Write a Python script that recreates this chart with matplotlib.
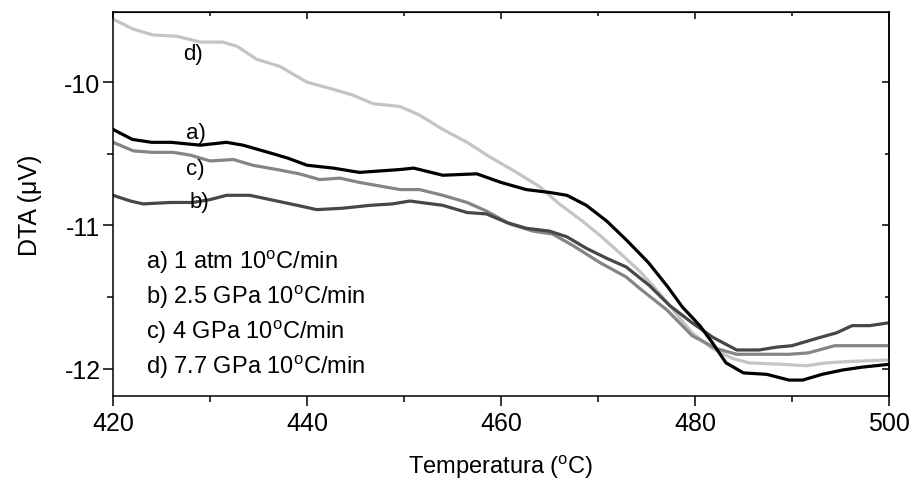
import matplotlib
matplotlib.use("Agg")
import matplotlib.pyplot as plt
from matplotlib.ticker import MultipleLocator

plt.rcParams['font.family'] = ['Liberation Sans', 'DejaVu Sans']
plt.rcParams['mathtext.fontset'] = 'custom'
plt.rcParams['mathtext.rm'] = 'Liberation Sans'
plt.rcParams['mathtext.it'] = 'Liberation Sans:italic'

# a) 1 atm
temp_a = [420, 422, 424, 426, 429, 431.7, 433.4, 436, 438, 440, 442.7, 445.4, 449.6, 451, 454,
          457.5, 460, 462.6, 465, 466.8, 468.8, 470.9, 472.9, 475.2, 477.2, 478.7, 480.5, 481.8,
          483.2, 485, 487.4, 489.7, 491.1, 493.1, 495.2, 497.2, 500]
dta_a = [-10.33, -10.40, -10.42, -10.42, -10.44, -10.42, -10.44, -10.49, -10.53, -10.58, -10.60,
         -10.63, -10.61, -10.60, -10.65, -10.64, -10.70, -10.75, -10.77, -10.79, -10.86, -10.97,
         -11.10, -11.26, -11.43, -11.57, -11.70, -11.82, -11.96, -12.03, -12.04, -12.08, -12.08,
         -12.04, -12.01, -11.99, -11.97]

# b) 2.5 GPa
temp_b = [420, 421.8, 423.1, 425.9, 428.2, 430, 431.7, 434.1, 436.9, 439, 441, 443.7, 446.5,
          448.8, 450.6, 454, 456.5, 458.5, 460.6, 462.6, 465, 466.8, 468.8, 470.9, 472.9, 475.3,
          477.4, 479.7, 481.8, 484.3, 486.6, 488.4, 490, 492.5, 494.6, 496.2, 498, 500]
dta_b = [-10.79, -10.83, -10.85, -10.84, -10.84, -10.82, -10.79, -10.79, -10.83, -10.86, -10.89,
         -10.88, -10.86, -10.85, -10.83, -10.86, -10.91, -10.92, -10.98, -11.02, -11.04, -11.08,
         -11.16, -11.23, -11.29, -11.42, -11.56, -11.68, -11.78, -11.87, -11.87, -11.85, -11.84,
         -11.79, -11.75, -11.70, -11.70, -11.68]

# c) 4 GPa
temp_c = [420, 422.1, 424.1, 426.2, 428, 430, 432.4, 434.4, 436.9, 439.2, 441.3, 443.4, 445.4,
          449.6, 451.6, 454, 456.5, 458.5, 460.9, 463.3, 465.3, 467.4, 470.2, 472.9, 474.3, 477.1,
          479.7, 482.2, 484.3, 486.6, 489.7, 491.7, 494.4, 497.1, 500]
dta_c = [-10.42, -10.48, -10.49, -10.49, -10.51, -10.55, -10.54, -10.58, -10.61, -10.64, -10.68,
         -10.67, -10.70, -10.75, -10.75, -10.79, -10.84, -10.90, -10.99, -11.04, -11.06, -11.14,
         -11.26, -11.36, -11.44, -11.59, -11.77, -11.86, -11.90, -11.90, -11.90, -11.89, -11.84,
         -11.84, -11.84]

# d) 7.7 GPa
temp_d = [420, 422.1, 424.1, 426.6, 429, 431.3, 432.8, 434.8, 437.2, 440, 442.7, 444.7, 446.8,
          449.6, 451.6, 454, 456.5, 458.8, 461.6, 464, 466, 468.4, 470.2, 472.2, 474.3, 476.3,
          478.1, 479.7, 481.8, 483.9, 485.6, 489, 491.5, 493.5, 495.9, 500]
dta_d = [-9.56, -9.63, -9.67, -9.68, -9.72, -9.72, -9.75, -9.84, -9.89, -10.00, -10.05, -10.09,
         -10.15, -10.17, -10.23, -10.33, -10.42, -10.52, -10.63, -10.73, -10.85, -10.97, -11.07,
         -11.19, -11.32, -11.47, -11.62, -11.75, -11.86, -11.93, -11.96, -11.97, -11.98, -11.96,
         -11.95, -11.94]

curve_tags = ['a)', 'b)', 'c)', 'd)']
legend_lines = ['a) 1 atm 10$^{\\rm o}$C/min', 'b) 2.5 GPa 10$^{\\rm o}$C/min',
                'c) 4 GPa 10$^{\\rm o}$C/min', 'd) 7.7 GPa 10$^{\\rm o}$C/min']

fig = plt.figure(figsize=(9.13, 4.81), dpi=100)
ax = fig.add_axes([0.1238, 0.175, 0.8499, 0.798])

ax.plot(temp_d, dta_d, color='#c4c4c4', lw=2.3, solid_joinstyle='round')
ax.plot(temp_c, dta_c, color='#858585', lw=2.3, solid_joinstyle='round')
ax.plot(temp_b, dta_b, color='#474747', lw=2.3, solid_joinstyle='round')
ax.plot(temp_a, dta_a, color='#000000', lw=2.3, solid_joinstyle='round')

ax.set_xlim(420, 500)
ax.set_ylim(-12.19, -9.51)
ax.xaxis.set_major_locator(MultipleLocator(20))
ax.xaxis.set_minor_locator(MultipleLocator(10))
ax.yaxis.set_major_locator(MultipleLocator(1))
ax.yaxis.set_minor_locator(MultipleLocator(0.5))
ax.tick_params(which='both', direction='out', width=1.1, labelsize=18,
               top=False, right=False)
ax.tick_params(which='major', length=7)
ax.tick_params(which='minor', length=4)
ax.tick_params(axis='x', which='major', pad=4)
ax.tick_params(axis='y', which='major', pad=2)
ax.yaxis.set_major_formatter(matplotlib.ticker.FuncFormatter(lambda v, p: '%d' % v))
for s in ax.spines.values():
    s.set_linewidth(1.1)

# inward ticks on right and top axes
sec = ax.secondary_yaxis('right')
sec.yaxis.set_major_locator(MultipleLocator(1))
sec.yaxis.set_minor_locator(MultipleLocator(0.5))
sec.tick_params(which='both', direction='in', labelright=False, width=1.1)
sec.tick_params(which='major', length=5)
sec.tick_params(which='minor', length=3)
sec.spines['right'].set_linewidth(1.1)
top = ax.secondary_xaxis('top')
top.xaxis.set_major_locator(MultipleLocator(20))
top.xaxis.set_minor_locator(MultipleLocator(10))
top.tick_params(which='both', direction='in', labeltop=False, width=1.1)
top.tick_params(which='major', length=5)
top.tick_params(which='minor', length=3)

ax.set_xlabel('Temperatura ($^{\\rm o}$C)', fontsize=17, labelpad=13)
ax.set_ylabel('DTA (\u03bcV)', fontsize=18, labelpad=16)

# curve tags
tag_x = [428.5, 428.9, 428.5, 428.2]
tag_y = [-10.35, -10.83, -10.60, -9.80]
for t, x, y in zip(curve_tags, tag_x, tag_y):
    ax.text(x, y, t, fontsize=16, ha='center', va='center')

leg_y = [-11.25, -11.495, -11.74, -11.985]
for t, y in zip(legend_lines, leg_y):
    ax.text(423.4, y, t, fontsize=17, ha='left', va='center')

fig.savefig('out.png', dpi=100)
